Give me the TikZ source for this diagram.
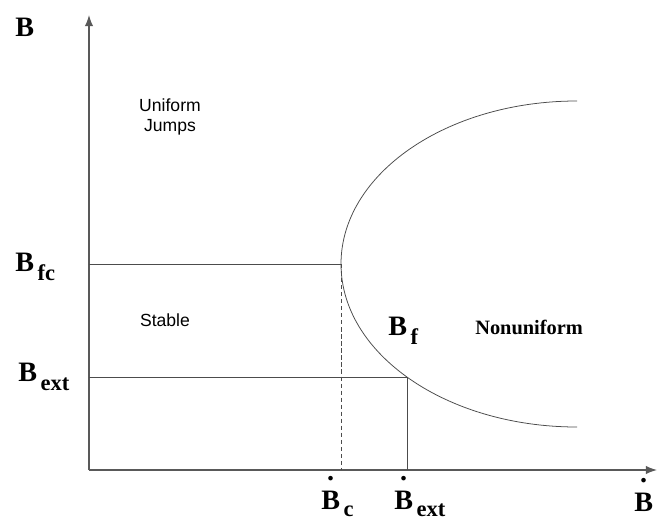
\documentclass[tikz,border=0pt]{standalone}
\usepackage{fontspec}
\setmainfont{Liberation Serif}
\newfontfamily\regionsans{Liberation Sans}
\usetikzlibrary{arrows.meta,calc}

\newcommand{\lowsub}[2][7pt]{\hspace{2.5pt}\raisebox{-#1}{\fontsize{16}{16}\selectfont #2}}
\newcommand{\dotB}{\ooalign{B\cr\hidewidth\raisebox{1.02em}{.}\hidewidth\cr}}

\begin{document}
\begin{tikzpicture}[
    x=0.025cm, y=0.025cm,
    axis/.style={draw=black!65, line width=0.9pt, -{Latex[length=8pt,width=6pt]}},
    guide/.style={draw=black!70, line width=0.55pt},
    blabel/.style={font=\bfseries\fontsize{20}{20}\selectfont, inner sep=0pt, anchor=base west},
    rlabel/.style={font=\regionsans\fontsize{12.5}{14.5}\selectfont, align=center, inner sep=0pt}
  ]
  \useasboundingbox (0,0) rectangle (668,521);

  %% -- axes --
  \coordinate (O) at (89,51);
  \coordinate (ytop) at (89,506);
  \coordinate (xend) at (657,51);
  \draw[axis] (O) -- (ytop);
  \draw[axis] (O) -- (xend);

  %% -- flow boundary (half ellipse) --
  \coordinate (ctr) at (577,257);
  \coordinate (vtx) at (341,257);
  \coordinate (ext) at ($(ctr)+(223.9:236 and 163)$);
  \draw[guide] (ctr) ++(90:236 and 163) arc[start angle=90, end angle=270,
        x radius=236, y radius=163];

  %% -- guide lines --
  \draw[guide] (O |- vtx) -- (vtx);
  \draw[guide, dashed, dash pattern=on 3pt off 2pt] (vtx) -- (vtx |- O);
  \draw[guide] (O |- ext) -- (ext) -- (ext |- O);

  %% -- axis labels --
  \node[blabel] (lB) at (15,484) {B};
  \node[blabel] (lBfc) at (15,250) {B\lowsub{fc}};
  \node[blabel] (lBext) at (18,140) {B\lowsub{ext}};
  \node[blabel] (lBf) at (388,186) {B\lowsub{f}};
  \node[blabel] (lBdc) at (321,12) {\dotB\lowsub[5.5pt]{c}};
  \node[blabel] (lBdext) at (394,12) {\dotB\lowsub[5.5pt]{ext}};
  \node[blabel] (lBd) at (634,10) {\dotB};

  %% -- regions --
  \node[rlabel] (uniform) at (170,404) {Uniform\\Jumps};
  \node[rlabel] (stable) at (165,201) {Stable};
  \node[blabel, font=\bfseries\fontsize{14.5}{14.5}\selectfont] (nonuni) at (475,187) {Nonuniform};

\end{tikzpicture}
\end{document}
